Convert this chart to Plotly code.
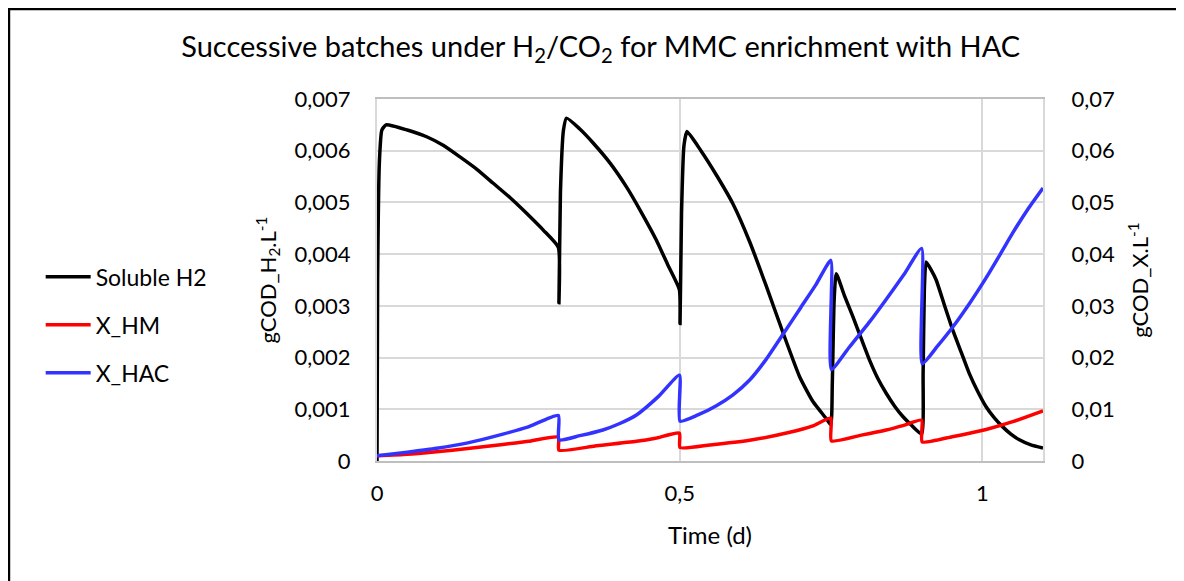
import plotly.graph_objects as go

# Soluble H2 (left axis)
t_h2 = [0, 0.001, 0.004, 0.008, 0.015, 0.05, 0.082, 0.11, 0.137, 0.165, 0.192, 0.22, 0.247, 0.275,
        0.2995, 0.3005, 0.303, 0.308, 0.313, 0.335, 0.357, 0.385, 0.412, 0.437, 0.4615, 0.48,
        0.4995, 0.5005, 0.503, 0.507, 0.512, 0.535, 0.5605, 0.588, 0.6155, 0.643, 0.6706, 0.698,
        0.72, 0.742, 0.7495, 0.752, 0.755, 0.7585, 0.772, 0.786, 0.80, 0.8135, 0.827, 0.841,
        0.855, 0.8685, 0.882, 0.8995, 0.902, 0.904, 0.907, 0.915, 0.9236, 0.937, 0.951, 0.965,
        0.978, 0.992, 1.006, 1.02, 1.0335, 1.047, 1.061, 1.08, 1.1]
h2 = [0.0, 0.0035, 0.0058, 0.0064, 0.0065, 0.0064, 0.00627, 0.0061, 0.00588, 0.00564, 0.00537,
      0.00509, 0.00479, 0.00446,
      0.00413, 0.00306, 0.0052, 0.0064, 0.00663, 0.00642, 0.00615, 0.00576, 0.0053, 0.0048, 0.00427,
      0.0038,
      0.00331, 0.00266, 0.0048, 0.0061, 0.00637, 0.0060, 0.00553, 0.00497, 0.00424, 0.00338, 0.00248,
      0.00163,
      0.00115, 0.00082, 0.0007, 0.0015, 0.0031, 0.00362, 0.0032, 0.00279, 0.00236, 0.00195, 0.0016,
      0.00131,
      0.00106, 0.00086, 0.0007, 0.00052, 0.0017, 0.0033, 0.00385, 0.0037, 0.0035, 0.00302, 0.00253,
      0.0021,
      0.0017, 0.00135, 0.00105, 0.00083, 0.00066, 0.00052, 0.00041, 0.00031, 0.00025]

# X_HM (right axis)
t_hm = [0, 0.05, 0.0985, 0.15, 0.208, 0.25, 0.2995, 0.3005, 0.36, 0.4285, 0.46, 0.4995, 0.5005,
        0.55, 0.6155, 0.68, 0.72, 0.7495, 0.7505, 0.8, 0.841, 0.87, 0.8995, 0.9005, 0.95, 1.006,
        1.05, 1.1]
hm = [0.001, 0.0013, 0.0018, 0.0024, 0.0032, 0.0038, 0.0046, 0.0021, 0.0029, 0.0038, 0.0044,
      0.0054, 0.0026, 0.0031, 0.0040, 0.0055, 0.0068, 0.0083, 0.0039, 0.005, 0.006, 0.0069,
      0.0079, 0.0037, 0.0047, 0.0061, 0.0076, 0.0097]

# X_HAC (right axis)
t_hac = [0, 0.05, 0.0985, 0.15, 0.208, 0.25, 0.2995, 0.3005, 0.335, 0.373, 0.4, 0.4285, 0.465,
         0.4995, 0.5005, 0.53, 0.5605, 0.588, 0.6155, 0.643, 0.6706, 0.70, 0.725, 0.7495, 0.7505,
         0.78, 0.8135, 0.84, 0.87, 0.8995, 0.9005, 0.925, 0.951, 0.98, 1.006, 1.03, 1.05, 1.075, 1.1]
hac = [0.001, 0.0017, 0.00245, 0.0035, 0.0052, 0.0066, 0.0088, 0.0041, 0.0049, 0.006, 0.0072,
       0.0089, 0.0125,
       0.0166, 0.0077, 0.0089, 0.0107, 0.0128, 0.01566, 0.0197, 0.0245, 0.0297, 0.0341, 0.0388,
       0.0177,
       0.0220, 0.0269, 0.0311, 0.0360, 0.0411, 0.0188, 0.0221, 0.0259, 0.0307, 0.0354, 0.0401, 0.0441,
       0.0487, 0.0528]

FONT = "Lato, 'Open Sans', sans-serif"
SMOOTH = 0.5

fig = go.Figure()
fig.add_trace(go.Scatter(x=t_h2, y=h2, name="Soluble H2", mode="lines", legendgroup="a",
                         line=dict(color="#000000", width=3.5, shape="spline", smoothing=SMOOTH)))
fig.add_trace(go.Scatter(x=t_hm, y=hm, name="X_HM", mode="lines", yaxis="y2", legendgroup="b",
                         line=dict(color="#ff0000", width=3.5, shape="spline", smoothing=SMOOTH)))
fig.add_trace(go.Scatter(x=t_hac, y=hac, name="X_HAC", mode="lines", yaxis="y2", legendgroup="c",
                         line=dict(color="#3333ff", width=3.5, shape="spline", smoothing=SMOOTH)))

# the page adds an 8px body margin, so the figure is 8px smaller than the window
fig.update_layout(
    width=1176, height=573,
    margin=dict(l=369, r=141, t=91, b=120),
    paper_bgcolor="white", plot_bgcolor="white",
    separators=", ",
    font=dict(family=FONT, size=22, color="#000000"),
    title=dict(text="Successive batches under H<sub>2</sub>/CO<sub>2</sub> for MMC enrichment with HAC",
               x=0.504, xanchor="center", y=0.932, yanchor="middle", font=dict(size=29)),
    xaxis=dict(range=[0, 1.1], dtick=0.5, tick0=0, showgrid=True, gridcolor="#d9d9d9", gridwidth=2,
               showline=True, linecolor="#bfbfbf", linewidth=2, mirror=True, zeroline=False,
               ticks="", ticklabelstandoff=12,
               title=dict(text="Time (d)", standoff=22, font=dict(size=24))),
    yaxis=dict(range=[0, 0.007], dtick=0.001, tick0=0, showgrid=True, gridcolor="#d9d9d9", gridwidth=2,
               showline=True, linecolor="#d9d9d9", linewidth=2, zeroline=False, ticks="",
               ticklabelstandoff=20,
               title=dict(text="gCOD_H<sub>2</sub>.L<sup>-1</sup>", standoff=12, font=dict(size=22))),
    yaxis2=dict(range=[0, 0.07], dtick=0.01, tick0=0, overlaying="y", side="right", showgrid=False,
                showline=True, linecolor="#d9d9d9", linewidth=2, zeroline=False, ticks="",
                ticklabelstandoff=22,
                title=dict(text="gCOD_X.L<sup>-1</sup>", standoff=19, font=dict(size=22))),
    legend=dict(x=-0.505, xanchor="left", y=0.376, yanchor="middle", traceorder="grouped",
                tracegroupgap=15, itemwidth=45, font=dict(size=23), bgcolor="rgba(0,0,0,0)"),
    showlegend=True,
)

# outer chart frame
fig.add_shape(type="rect", xref="paper", yref="paper", x0=-0.5526, x1=1.3, y0=-0.4, y1=1.2486,
              line=dict(color="#000000", width=2.5), fillcolor="rgba(0,0,0,0)", layer="below")

fig.write_html("out.html")
